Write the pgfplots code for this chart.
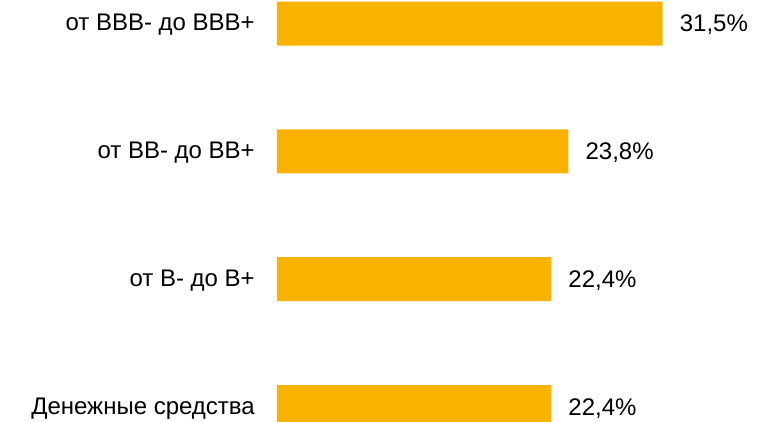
\documentclass[border=0pt]{standalone}
\usepackage{fontspec}
\setmainfont{Liberation Sans}
\usepackage{pgfplots}
\pgfplotsset{compat=1.18}
\definecolor{barc}{RGB}{250,178,0}
\begin{document}
\begin{tikzpicture}
\begin{axis}[name=ax, scale only axis, width=502pt, height=422pt,
  xbar, xmin=0, xmax=41, ymin=-0.117, ymax=3.184,
  bar width=0.344,
  axis line style={draw=none},
  xtick=\empty,
  ytick={0,1,2,3},
  yticklabels={Денежные средства, от B- до B+, от BB- до BB+, от BBB- до BBB+},
  major tick length=0pt,
  /pgf/number format/assume math mode=true,
  yticklabel style={font=\fontsize{24}{28}\selectfont, anchor=east, inner sep=0pt, xshift=-22pt, yshift=-1.5pt},
  nodes near coords={\pgfmathprintnumber[fixed,precision=1,fixed zerofill,use comma,assume math mode=true]{\pgfplotspointmeta}\%},
  nodes near coords align=horizontal,
  every node near coord/.append style={font=\fontsize{24}{28}\selectfont, anchor=west, inner sep=0pt, xshift=17pt, yshift=-1.5pt, text=black},
  clip=true,
]
\addplot[fill=barc, draw=none] coordinates {(22.4,0) (22.4,1) (23.8,2) (31.5,3)};
\end{axis}
\pgfresetboundingbox
\path ([xshift=-277pt]ax.south west) rectangle (ax.north east);
\end{tikzpicture}
\end{document}
